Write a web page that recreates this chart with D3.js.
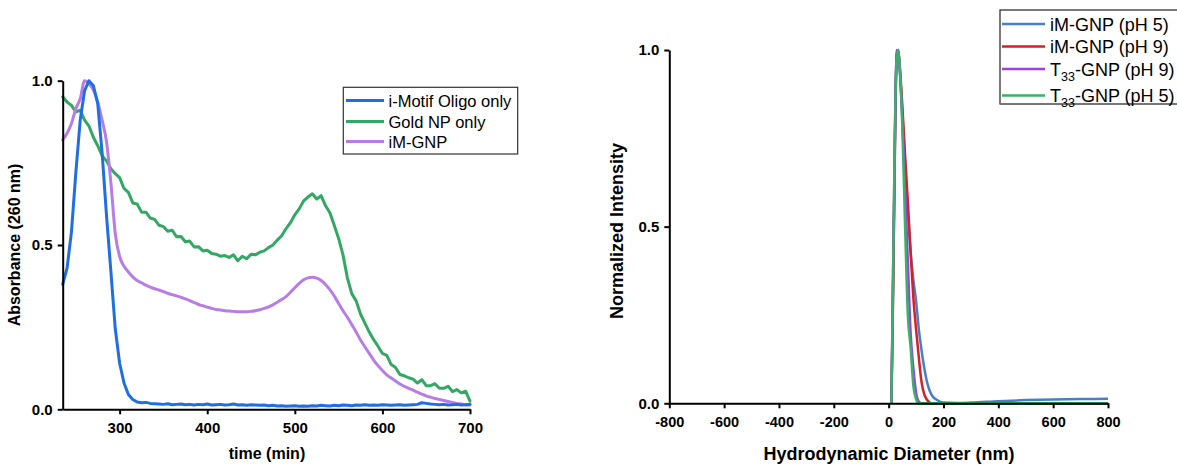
<!DOCTYPE html>
<html>
<head>
<meta charset="utf-8">
<script src="https://cdn.jsdelivr.net/npm/d3@7/dist/d3.min.js"></script>
<style>
  html, body { margin: 0; padding: 0; background: #fff; }
  svg { display: block; font-family: "Liberation Sans", Arial, sans-serif; }
</style>
</head>
<body>
<svg id="chart" width="1177" height="465"></svg>
<script>
// ---------- Left panel data (absorbance vs time) ----------
const timeMin = [235,240,245,250,255,260,265,270,275,280,
  285,290,295,300,305,310,315,320,325,330,
  335,340,345,350,355,360,365,370,375,380,
  385,390,395,400,405,410,415,420,425,430,
  435,440,445,450,455,460,465,470,475,480,
  485,490,495,500,505,510,515,520,525,530,
  535,540,545,550,555,560,565,570,575,580,
  585,590,595,600,605,610,615,620,625,630,
  635,640,645,650,655,660,665,670,675,680,
  685,690,695,700];

const iMotifOligo = [0.38,0.43,0.54,0.72,0.88,0.97,1.0,0.985,0.93,0.78,
  0.59,0.42,0.245,0.14,0.08,0.045,0.03,0.022,0.02,0.021,
  0.018,0.017,0.016,0.015,0.017,0.014,0.015,0.016,0.014,0.015,
  0.013,0.015,0.014,0.016,0.013,0.014,0.015,0.013,0.014,0.016,
  0.013,0.014,0.012,0.014,0.013,0.012,0.013,0.011,0.012,0.010,
  0.011,0.009,0.010,0.011,0.009,0.010,0.009,0.011,0.010,0.012,
  0.011,0.010,0.012,0.011,0.013,0.012,0.011,0.013,0.012,0.014,
  0.012,0.013,0.012,0.014,0.013,0.012,0.013,0.014,0.012,0.013,
  0.014,0.015,0.020,0.018,0.016,0.015,0.014,0.015,0.013,0.014,
  0.015,0.013,0.014,0.015];

const goldNP = [0.951,0.935,0.925,0.905,0.91,0.88,0.862,0.828,0.802,0.772,
  0.756,0.732,0.717,0.705,0.672,0.66,0.628,0.625,0.60,0.60,
  0.582,0.578,0.56,0.556,0.542,0.545,0.525,0.526,0.51,0.512,
  0.494,0.495,0.482,0.484,0.474,0.472,0.466,0.468,0.462,0.470,
  0.452,0.466,0.458,0.472,0.470,0.478,0.482,0.492,0.500,0.515,
  0.528,0.550,0.568,0.592,0.610,0.634,0.646,0.656,0.640,0.650,
  0.620,0.598,0.560,0.520,0.470,0.400,0.352,0.330,0.290,0.262,
  0.235,0.212,0.192,0.170,0.164,0.136,0.127,0.106,0.102,0.096,
  0.092,0.080,0.090,0.072,0.072,0.078,0.064,0.064,0.070,0.054,
  0.060,0.050,0.055,0.025];

const iMGNP = [0.82,0.84,0.87,0.915,0.945,1.0,0.99,0.972,0.935,0.88,
  0.815,0.69,0.535,0.465,0.435,0.418,0.403,0.392,0.385,0.378,
  0.372,0.367,0.363,0.358,0.353,0.349,0.345,0.341,0.336,0.331,
  0.325,0.319,0.315,0.311,0.307,0.304,0.302,0.300,0.299,0.298,
  0.297,0.297,0.297,0.298,0.300,0.303,0.307,0.312,0.318,0.326,
  0.334,0.343,0.356,0.370,0.383,0.394,0.400,0.402,0.399,0.392,
  0.380,0.364,0.345,0.322,0.300,0.280,0.258,0.235,0.211,0.190,
  0.170,0.150,0.133,0.118,0.105,0.095,0.086,0.077,0.070,0.064,
  0.058,0.052,0.046,0.041,0.037,0.033,0.030,0.027,0.024,0.021,
  0.018,0.016,0.014,0.013];

const leftSeriesNames = ["i-Motif Oligo only", "Gold NP only", "iM-GNP"];
const leftXTicks = [300, 400, 500, 600, 700];
const leftYTicks = [0, 0.5, 1.0];

// ---------- Right panel data (DLS) ----------
const diameterNm = [10,15,20,25,30,35,40,50,60,70,80,90,100,110,120,130,140,150,160,180,200,250,300,400,500,600,700,800];
const iMGNP_pH5 = [0,0.25,0.55,0.85,1.0,0.99,0.95,0.82,0.68,0.54,0.43,0.35,0.29,0.21,0.15,0.10,0.06,0.035,0.02,0.008,0.002,0.001,0.002,0.006,0.009,0.011,0.012,0.013];
const iMGNP_pH9 = [0,0.25,0.55,0.85,0.98,1.0,0.96,0.84,0.70,0.57,0.43,0.30,0.21,0.13,0.06,0.025,0.01,0.002,0,0,0,0,0,0,0,0,0,0];
const T33GNP_pH9 = [0,0.3,0.6,0.88,0.99,1.0,0.95,0.80,0.60,0.40,0.20,0.10,0.03,0.005,0,0,0,0,0,0,0,0,0,0,0,0,0,0];
const T33GNP_pH5 = [0,0.3,0.6,0.87,0.98,1.0,0.96,0.78,0.50,0.25,0.16,0.05,0.012,0,0,0,0,0,0,0,0,0,0,0,0,0,0,0];
const rightXTicks = [-800,-600,-400,-200,0,200,400,600,800];
const rightYTicks = [0, 0.5, 1.0];

// ---------- Drawing ----------
const svg = d3.select("#chart");
svg.append("rect").attr("width",1177).attr("height",465).attr("fill","#fff");

function styleAxis(g, fontSize) {
  g.select(".domain").attr("stroke","#000").attr("stroke-width",2);
  g.selectAll(".tick line").attr("stroke","#000").attr("stroke-width",2);
  g.selectAll(".tick text").attr("fill","#000").attr("font-size",fontSize)
    .attr("font-weight","bold").attr("font-family","'Liberation Sans', Arial, sans-serif");
}
const intFmt = d => String(d);   // plain hyphen-minus, as in the reference

// Left panel
const lx = d3.scaleLinear().domain([235, 700]).range([62.7, 470]);
const ly = d3.scaleLinear().domain([0, 1]).range([409.3, 80.7]);
const leftColors = ["#1f6fe0", "#33a865", "#b77de4"];
const leftData = [iMotifOligo, goldNP, iMGNP];

const lineL = (vals, curve) => d3.line()
  .x((d,i) => lx(timeMin[i])).y(d => ly(d)).curve(curve)(vals);

[1, 2, 0].forEach(k => {
  svg.append("path")
    .attr("d", lineL(leftData[k], k === 2 ? d3.curveMonotoneX : d3.curveLinear))
    .attr("fill","none").attr("stroke",leftColors[k]).attr("stroke-width",3)
    .attr("stroke-linejoin","round").attr("stroke-linecap","round");
});

const lxAxis = svg.append("g").attr("transform","translate(0,409.3)")
  .call(d3.axisBottom(lx).tickValues(leftXTicks).tickFormat(intFmt)
    .tickSize(5).tickSizeOuter(0).tickPadding(8));
styleAxis(lxAxis, 15);
const lyAxis = svg.append("g").attr("transform","translate(62.7,0)")
  .call(d3.axisLeft(ly).tickValues(leftYTicks).tickFormat(d3.format(".1f"))
    .tickSize(5).tickSizeOuter(0).tickPadding(5));
styleAxis(lyAxis, 15);

svg.append("text").attr("transform","translate(20,245) rotate(-90)")
  .attr("text-anchor","middle").attr("font-size",16).attr("font-weight","bold")
  .text("Absorbance (260 nm)");
svg.append("text").attr("x",267).attr("y",459)
  .attr("text-anchor","middle").attr("font-size",16).attr("font-weight","bold")
  .text("time (min)");

// Left legend
const lLeg = svg.append("g");
lLeg.append("rect").attr("x",343.3).attr("y",87.3).attr("width",174.4).attr("height",66.7)
  .attr("fill","#fff").attr("stroke","#333").attr("stroke-width",1.2);
const lLegY = [100.5, 121.5, 141.5];
leftSeriesNames.forEach((name, k) => {
  lLeg.append("line").attr("x1",346).attr("x2",384).attr("y1",lLegY[k]).attr("y2",lLegY[k])
    .attr("stroke",leftColors[k]).attr("stroke-width",3);
  lLeg.append("text").attr("x",388.5).attr("y",lLegY[k]+6).attr("font-size",16.5)
    .attr("fill","#000").text(name);
});

// Right panel
const rx = d3.scaleLinear().domain([-800, 800]).range([669.3, 1108]);
const ry = d3.scaleLinear().domain([0, 1]).range([403.3, 50]);
const rightColors = ["#4a7fc8", "#d42027", "#9b42d8", "#3bb06d"];
const rightData = [iMGNP_pH5, iMGNP_pH9, T33GNP_pH9, T33GNP_pH5];

rightData.forEach((vals, k) => {
  svg.append("path")
    .attr("d", d3.line().x((d,i) => rx(diameterNm[i])).y(d => ry(d)).curve(d3.curveMonotoneX)(vals))
    .attr("fill","none").attr("stroke",rightColors[k]).attr("stroke-width",2.5)
    .attr("stroke-linejoin","round");
});

const rxAxis = svg.append("g").attr("transform","translate(0,403.3)")
  .call(d3.axisBottom(rx).tickValues(rightXTicks).tickFormat(intFmt)
    .tickSize(5).tickSizeOuter(0).tickPadding(8));
styleAxis(rxAxis, 14.5);
const ryAxis = svg.append("g").attr("transform","translate(669.3,0)")
  .call(d3.axisLeft(ry).tickValues(rightYTicks).tickFormat(d3.format(".1f"))
    .tickSize(5).tickSizeOuter(0).tickPadding(5));
styleAxis(ryAxis, 15);

svg.append("text").attr("transform","translate(623,231) rotate(-90)")
  .attr("text-anchor","middle").attr("font-size",18).attr("font-weight","bold")
  .text("Normalized Intensity");
svg.append("text").attr("x",889).attr("y",460)
  .attr("text-anchor","middle").attr("font-size",18).attr("font-weight","bold")
  .text("Hydrodynamic Diameter (nm)");

// Right legend
const rLeg = svg.append("g");
rLeg.append("rect").attr("x",1000).attr("y",10).attr("width",190).attr("height",94)
  .attr("fill","#fff").attr("stroke","#222").attr("stroke-width",1.2);
rLeg.append("line").attr("x1",1000).attr("x2",1177).attr("y1",104).attr("y2",104)
  .attr("stroke","#777").attr("stroke-width",2);
const rLegY = [24, 46.5, 69, 95.5];
const rightNames = [
  {main:"iM-GNP (pH 5)"},
  {main:"iM-GNP (pH 9)"},
  {pre:"T", sub:"33", post:"-GNP (pH 9)"},
  {pre:"T", sub:"33", post:"-GNP (pH 5)"}
];
rightNames.forEach((n, k) => {
  rLeg.append("line").attr("x1",1002).attr("x2",1045).attr("y1",rLegY[k]).attr("y2",rLegY[k])
    .attr("stroke",rightColors[k]).attr("stroke-width",2.5);
  const t = rLeg.append("text").attr("x",1050).attr("y",rLegY[k]+6.5).attr("font-size",18).attr("fill","#000");
  if (n.main) { t.text(n.main); }
  else {
    t.append("tspan").text(n.pre);
    t.append("tspan").attr("font-size",12.5).attr("dy",5).text(n.sub);
    t.append("tspan").attr("dy",-5).text(n.post);
  }
});
</script>
</body>
</html>
